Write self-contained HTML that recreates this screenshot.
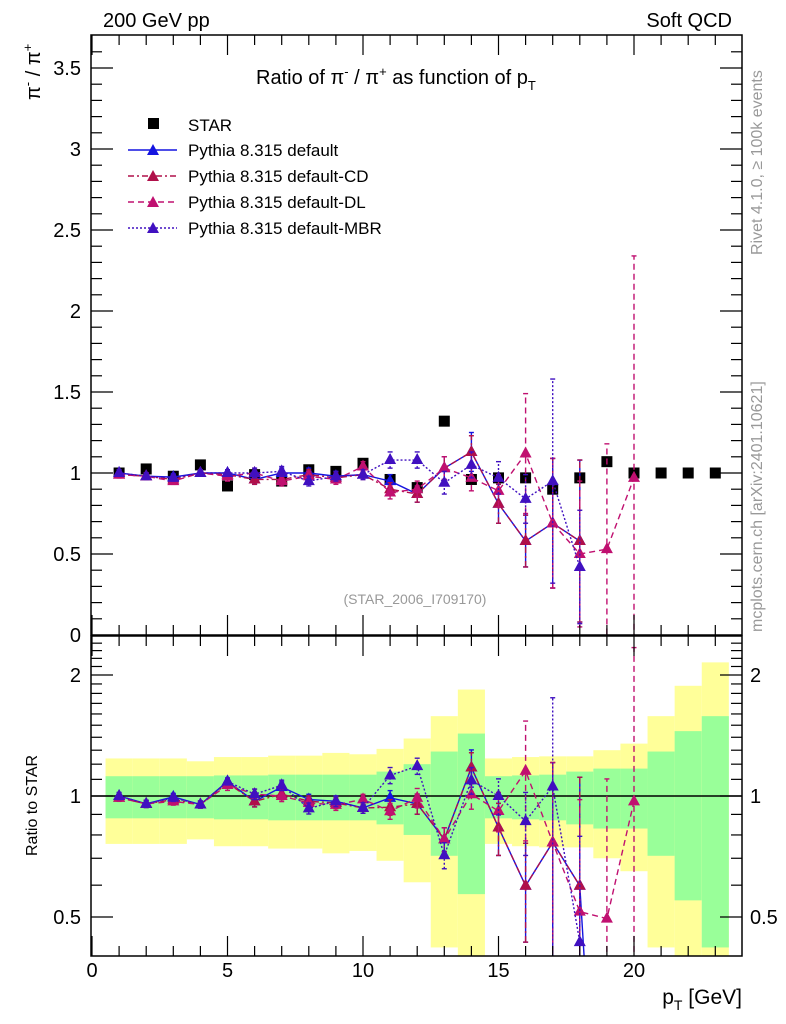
<!DOCTYPE html>
<html><head><meta charset="utf-8">
<style>
html,body{margin:0;padding:0;background:#fff;width:786px;height:1024px;overflow:hidden;}
svg{display:block;font-family:"Liberation Sans",sans-serif;}
</style></head>
<body>
<svg id="chart" width="786" height="1024" viewBox="0 0 786 1024" xmlns="http://www.w3.org/2000/svg">
<defs>
<clipPath id="clipU"><rect x="91" y="35" width="651" height="600"/></clipPath>
<clipPath id="clipL"><rect x="91" y="636" width="651" height="320"/></clipPath>
</defs>
<g id="bands" clip-path="url(#clipL)"></g>
<g id="marksL" clip-path="url(#clipL)"></g>
<g id="marksU" clip-path="url(#clipU)"></g>
<g id="axes"></g>
<text x="103" y="27" font-size="20">200 GeV pp</text>
<text x="732" y="27" font-size="20" text-anchor="end">Soft QCD</text>
<text x="256" y="84" font-size="20">Ratio of π<tspan dy="-8" font-size="13">-</tspan><tspan dy="8"> / π</tspan><tspan dy="-8" font-size="13">+</tspan><tspan dy="8"> as function of p</tspan><tspan dy="6" font-size="13">T</tspan></text>
<text transform="translate(40,100) rotate(-90)" font-size="20">π<tspan dy="-8" font-size="13">-</tspan><tspan dy="8"> / π</tspan><tspan dy="-8" font-size="13">+</tspan></text>
<text transform="translate(37,856) rotate(-90)" font-size="16">Ratio to STAR</text>
<text x="742" y="1004" font-size="21" text-anchor="end">p<tspan dy="6" font-size="14">T</tspan><tspan dy="-6"> [GeV]</tspan></text>
<text transform="translate(762,255) rotate(-90)" font-size="16" fill="#999">Rivet 4.1.0, ≥ 100k events</text>
<text transform="translate(762,632) rotate(-90)" font-size="16" fill="#999">mcplots.cern.ch [arXiv:2401.10621]</text>
<text x="415" y="604" font-size="14" fill="#999" text-anchor="middle">(STAR_2006_I709170)</text>
<g id="legend"></g>
</svg>
<script>
// ---- data ----
const starPt = [1,2,3,4,5,6,7,8,9,10,11,12,13,14,15,16,17,18,19,20,21,22,23];
const starVal = [1.0,1.025,0.98,1.05,0.92,0.99,0.95,1.02,1.01,1.06,0.96,0.91,1.32,0.96,0.97,0.97,0.9,0.97,1.07,1.0,1.0,1.0,1.0];
const starTot = [0.24,0.24,0.24,0.22,0.25,0.25,0.26,0.26,0.28,0.27,0.31,0.39,0.58,0.84,0.24,0.25,0.255,0.255,0.30,0.35,0.58,0.88,1.15];
const starStat = [0.12,0.12,0.12,0.12,0.125,0.125,0.13,0.13,0.13,0.13,0.15,0.2,0.29,0.43,0.12,0.125,0.13,0.15,0.17,0.17,0.29,0.45,0.58];

const defPt = [1,2,3,4,5,6,7,8,9,10,11,12,13,14,15,16,17,18,19];
const defVal = [1.0,0.98,0.975,1.0,1.0,0.96,1.0,1.0,0.98,0.99,0.95,0.87,1.03,1.13,0.81,0.58,0.69,0.58,0.05];
const defErr = [0.02,0.02,0.02,0.02,0.02,0.03,0.03,0.03,0.03,0.03,0.04,0.05,0.07,0.12,0.12,0.16,0.4,0.5,0];

const cdPt = [1,2,3,4,5,6,7,8,9,10,11,12,13,14,15,16,17,18];
const cdVal = [0.99,0.98,0.96,1.0,0.99,0.96,0.96,0.99,0.97,0.99,0.9,0.87,1.03,1.13,0.81,0.58,0.69,0.58];
const cdErr = [0.02,0.02,0.02,0.02,0.02,0.03,0.03,0.03,0.03,0.03,0.04,0.05,0.07,0.1,0.12,0.16,0.4,0.5];

const dlPt = [1,2,3,4,5,6,7,8,9,10,11,12,13,14,15,16,17,18,19,20];
const dlVal = [0.99,0.98,0.95,1.0,0.98,1.0,0.95,0.98,0.96,1.04,0.88,0.9,1.03,0.97,0.89,1.12,0.69,0.5,0.53,0.97];
const dlErr = [0.02,0.02,0.02,0.02,0.03,0.03,0.03,0.03,0.03,0.03,0.04,0.05,0.07,0.08,0.1,0.37,0.4,0.45,0.65,1.37];

const mbrPt = [1,2,3,4,5,6,7,8,9,10,11,12,13,14,15,16,17,18];
const mbrVal = [1.0,0.98,0.97,1.0,1.0,1.0,1.01,0.95,0.98,0.99,1.08,1.08,0.94,1.05,0.97,0.84,0.95,0.42];
const mbrErr = [0.02,0.02,0.02,0.02,0.02,0.03,0.03,0.03,0.03,0.03,0.05,0.05,0.07,0.08,0.1,0.15,0.63,0.35];

const xTicks = [0,5,10,15,20];
const yTicksU = [0,0.5,1,1.5,2,2.5,3,3.5];
const yTicksL = [0.5,1,2];

// ---- scales ----
const X0=91, X1=742, UT=35, UB=635, LT=636, LB=956;
const xs = v => 92 + v*27.1;
const yU = v => 635 - v*162;
const yL = r => 796 - 121*Math.log2(Math.max(r,1e-3));
const NS="http://www.w3.org/2000/svg";
function mk(parent, tag, attrs){const e=document.createElementNS(NS,tag);for(const k in attrs)e.setAttribute(k,attrs[k]);parent.appendChild(e);return e;}

const gB=document.getElementById('bands'), gU=document.getElementById('marksU'), gL=document.getElementById('marksL'), gA=document.getElementById('axes'), gLeg=document.getElementById('legend');

starPt.forEach((p,i)=>{
  const xa=xs(p-0.5), xb=xs(p+0.5);
  const y1=mk(gB,'rect',{x:xa,y:yL(1+starTot[i]),width:xb-xa,height:yL(1-starTot[i])-yL(1+starTot[i]),fill:'#ffff99'});
  
  
  const g1=mk(gB,'rect',{x:xa,y:yL(1+starStat[i]),width:xb-xa,height:yL(1-starStat[i])-yL(1+starStat[i]),fill:'#99ff99'});
  
  
});
const ref=mk(gL,'line',{x1:X0,x2:X1,y1:yL(1),y2:yL(1),stroke:'#000','stroke-width':1.5});



starPt.forEach((p,i)=>{
  const r=mk(gU,'rect',{x:xs(p)-5.5,y:yU(starVal[i])-5.5,width:11,height:11,fill:'#000'});
  
  
});

const series=[
 {name:'default',pt:defPt,val:defVal,err:defErr,color:'#1414e0',dash:'',label:'Pythia 8.315 default'},
 {name:'default-cd',pt:cdPt,val:cdVal,err:cdErr,color:'#b0104a',dash:'6,3,2,3',label:'Pythia 8.315 default-CD'},
 {name:'default-dl',pt:dlPt,val:dlVal,err:dlErr,color:'#c01070',dash:'6,4',label:'Pythia 8.315 default-DL'},
 {name:'default-mbr',pt:mbrPt,val:mbrVal,err:mbrErr,color:'#4010c0',dash:'2,2',label:'Pythia 8.315 default-MBR'}
];
function tri(g,x,y,c){return mk(g,'polygon',{points:`${x},${y-7} ${x-6},${y+4} ${x+6},${y+4}`,fill:c});}
function drawSeries(g,s,yf,ratio){
  let pts=s.pt.map((p,i)=>{const si=starPt.indexOf(p);const d=ratio?starVal[si]:1;return [xs(p),yf(s.val[i]/d),yf((s.val[i]-s.err[i])/d),yf((s.val[i]+s.err[i])/d),s.val[i]];});
  if(!ratio) pts=pts.filter(q=>q[4]>=0.2);
  const pl=mk(g,'polyline',{points:pts.map(q=>q[0]+','+q[1]).join(' '),fill:'none',stroke:s.color,'stroke-width':1.4,'stroke-dasharray':s.dash});
  
  
  pts.forEach(q=>{
    if(q[4]<0.2) return;
    const eb=mk(g,'line',{x1:q[0],x2:q[0],y1:q[2],y2:q[3],stroke:s.color,'stroke-width':1.4,'stroke-dasharray':s.dash});
    
    
    mk(g,'line',{x1:q[0]-2.5,x2:q[0]+2.5,y1:q[2],y2:q[2],stroke:s.color,'stroke-width':1.4});
    mk(g,'line',{x1:q[0]-2.5,x2:q[0]+2.5,y1:q[3],y2:q[3],stroke:s.color,'stroke-width':1.4});
    const t=tri(g,q[0],q[1],s.color);
    
    
  });
}
series.forEach(s=>{drawSeries(gU,s,yU,false);drawSeries(gL,s,yL,true);});

[[UT,UB],[LT,LB]].forEach(([t,b],k)=>{
  const f=mk(gA,'rect',{x:X0,y:t,width:X1-X0,height:b-t,fill:'none',stroke:'#000','stroke-width':1.5});
  
  
  for(let v=0;v<=24;v++){const x=xs(v);if(x>X1)break;const L=(v%5==0)?20:10;
    mk(gA,'line',{x1:x,x2:x,y1:b,y2:b-L,stroke:'#000','stroke-width':1.2});
    mk(gA,'line',{x1:x,x2:x,y1:t,y2:t+L,stroke:'#000','stroke-width':1.2});}
});
xTicks.forEach(v=>{
  const t=mk(gA,'text',{x:xs(v),y:977,'font-size':20,'text-anchor':'middle'});t.textContent=v;
  
  
});
for(let k=1;k<37;k++){const v=k/10,y=yU(v);const L=(k%5==0)?22:11;
  mk(gA,'line',{x1:X0,x2:X0+L,y1:y,y2:y,stroke:'#000','stroke-width':1.2});
  mk(gA,'line',{x1:X1,x2:X1-L,y1:y,y2:y,stroke:'#000','stroke-width':1.2});}
yTicksU.forEach(v=>{
  const t=mk(gA,'text',{x:81,y:yU(v)+7,'font-size':20,'text-anchor':'end'});t.textContent=v;
  
  
});
[0.5,0.6,0.7,0.8,0.9,1,1.1,1.2,1.3,1.4,1.5,1.6,1.7,1.8,1.9,2,2.1,2.2,2.3,2.4].forEach(v=>{
  const y=yL(v);const L=(v==0.5||v==1||v==2)?22:11;
  mk(gA,'line',{x1:X0,x2:X0+L,y1:y,y2:y,stroke:'#000','stroke-width':1.2});
  mk(gA,'line',{x1:X1,x2:X1-L,y1:y,y2:y,stroke:'#000','stroke-width':1.2});});
yTicksL.forEach(v=>{
  const t=mk(gA,'text',{x:81,y:yL(v)+7,'font-size':20,'text-anchor':'end'});t.textContent=v;
  
  
  const t2=mk(gA,'text',{x:750,y:yL(v)+7,'font-size':20});t2.textContent=v;
  
  
});

const r0=mk(gLeg,'rect',{x:148,y:118,width:11,height:11,fill:'#000'});


const t0=mk(gLeg,'text',{x:188,y:131,'font-size':17});t0.textContent='STAR';


series.forEach((s,i)=>{const y=150+i*26;
  mk(gLeg,'line',{x1:128,x2:177,y1:y,y2:y,stroke:s.color,'stroke-width':1.4,'stroke-dasharray':s.dash});
  tri(gLeg,153,y+1,s.color);
  const t=mk(gLeg,'text',{x:188,y:y+6,'font-size':17});t.textContent=s.label;
  
  
});
</script>
</body></html>
